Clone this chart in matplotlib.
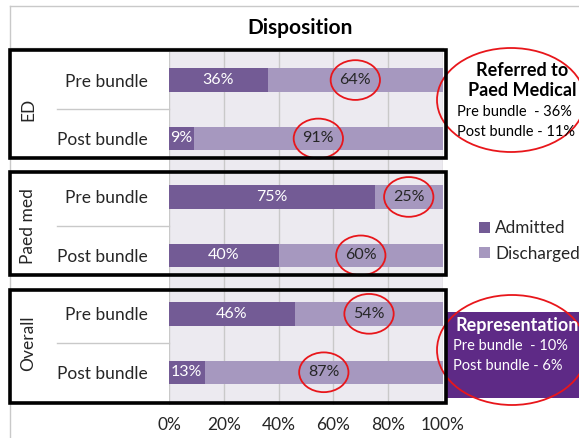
import matplotlib.pyplot as plt
from matplotlib.patches import Ellipse, Rectangle
from matplotlib.lines import Line2D
import matplotlib.transforms as mtrans

plt.rcParams['font.family'] = ['Lato', 'DejaVu Sans']

groups = ['ED', 'Paed med', 'Overall']
categories = ['Pre bundle', 'Post bundle'] * 3
admitted = [36, 9, 75, 40, 46, 13]
discharged = [64, 91, 25, 60, 54, 87]
xticks = [0, 20, 40, 60, 80, 100]

c_adm = '#735B95'
c_dis = '#A698BF'

fig = plt.figure(figsize=(5.79, 4.38), dpi=100)
W, H = 579, 438
ax = fig.add_axes([169 / W, 1 - 405 / H, 274 / W, 353 / H])
ax.set_facecolor('#ECEAF0')

y = list(range(len(categories)))
ax.barh(y, admitted, height=0.4, color=c_adm, label='Admitted', zorder=3)
ax.barh(y, discharged, left=admitted, height=0.4, color=c_dis, label='Discharged', zorder=3)

for i in y:
    ax.text(admitted[i] / 2, i, f'{admitted[i]}%', ha='center', va='center',
            color='white', fontsize=11.5, zorder=4)
    cx = admitted[i] + discharged[i] / 2
    ax.text(cx, i, f'{discharged[i]}%', ha='center', va='center',
            color='#262626', fontsize=11.5, zorder=4)
    ax.add_patch(Ellipse((cx, i), 18, 0.68, fill=False, edgecolor='#E8161B',
                         linewidth=1.3, zorder=5, clip_on=False))

ax.set_xlim(0, 100)
ax.set_ylim(5.56, -0.48)
ax.set_xticks(xticks)
ax.set_xticklabels([f'{t}%' for t in xticks], fontsize=12.5, color='#262626')
ax.grid(axis='x', color='#C9C9C9', linewidth=1, zorder=1)
ax.set_yticks(y)
ax.set_yticklabels(categories, fontsize=12.5, color='#262626')
ax.tick_params(axis='y', length=0, pad=15)
ax.tick_params(axis='x', length=0, pad=9)
for s in ax.spines.values():
    s.set_visible(False)

# category axis dividers and group labels
bt = mtrans.blended_transform_factory(fig.transFigure, ax.transData)
for g, name in enumerate(groups):
    ax.text(28 / W, 2 * g + 0.5, name, rotation=90, ha='center', va='center',
            fontsize=12.5, color='#262626', transform=bt)
    fig.add_artist(Line2D([57 / W, 169 / W], [2 * g + 0.5] * 2, transform=bt,
                          color='#C9C9C9', linewidth=1))
fig.add_artist(Line2D([10 / W, 443 / W], [-0.55] * 2, transform=bt,
                      color='#C9C9C9', linewidth=1))

# black boxes round each group
box_spans = [(-0.51, 1.33), (1.57, 3.33), (3.6, 5.52)]
for top, bot in box_spans:
    fig.add_artist(Rectangle((10 / W, bot), 436 / W, top - bot, transform=bt,
                             fill=False, edgecolor='black', linewidth=2.6, zorder=6))

# chart area border
fig.add_artist(Line2D([10 / W, 10 / W], [0, 1 - 6 / H], color='#C9C9C9', linewidth=1))
fig.add_artist(Line2D([10 / W, 1], [1 - 6 / H] * 2, color='#C9C9C9', linewidth=1))

fig.text(300 / W, 1 - 28 / H, 'Disposition', ha='center', va='center',
         fontsize=15, fontweight='bold', color='black')

leg = fig.legend(loc='center left', bbox_to_anchor=(479 / W, 1 - 241 / H), frameon=False,
                 fontsize=12.3, handlelength=0.65, handleheight=0.65, handletextpad=0.3,
                 labelspacing=0.55, borderaxespad=0, borderpad=0)
for t in leg.get_texts():
    t.set_color('#262626')

# referred-to note
fig.text(522 / W, 1 - 70 / H, 'Referred to', ha='center', va='center',
         fontsize=13, fontweight='bold', color='black')
fig.text(522 / W, 1 - 91 / H, 'Paed Medical', ha='center', va='center',
         fontsize=13, fontweight='bold', color='black')
fig.text(457 / W, 1 - 112 / H, 'Pre bundle  - 36%', ha='left', va='center',
         fontsize=10.5, color='black')
fig.text(457 / W, 1 - 132 / H, 'Post bundle - 11%', ha='left', va='center',
         fontsize=10.5, color='black')
fig.add_artist(Ellipse((511 / W, 1 - 100 / H), 148 / W, 104 / H, fill=False,
                       edgecolor='#E8161B', linewidth=1.3))

# representation note
fig.add_artist(Rectangle((447 / W, 1 - 398 / H), 140 / W, 86 / H,
                         facecolor='#5E2A86', edgecolor='none'))
fig.text(455 / W, 1 - 326 / H, 'Representation', ha='left', va='center',
         fontsize=13, fontweight='bold', color='white')
fig.text(453 / W, 1 - 346 / H, 'Pre bundle  - 10%', ha='left', va='center',
         fontsize=10.5, color='white')
fig.text(453 / W, 1 - 366 / H, 'Post bundle - 6%', ha='left', va='center',
         fontsize=10.5, color='white')
fig.add_artist(Ellipse((512 / W, 1 - 350 / H), 150 / W, 110 / H, fill=False,
                       edgecolor='#E8161B', linewidth=1.3))

fig.savefig('out.png', dpi=100)
